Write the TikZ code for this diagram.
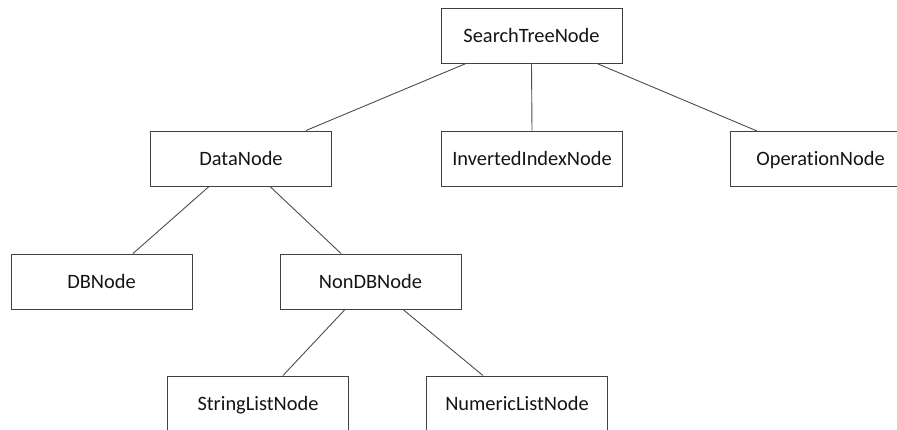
\documentclass[tikz,border=0pt]{standalone}
\usepackage{fontspec}
\setmainfont[Ligatures={NoCommon,NoRare}]{Carlito}
\begin{document}
\begin{tikzpicture}[x=1pt,y=-1pt,
  cls/.style={draw=black!75, line width=1pt, fill=white, rectangle,
    minimum width=181pt, minimum height=55pt, inner sep=0pt,
    text height=13.2pt, text depth=0pt,
    font=\fontsize{20.4}{24}\selectfont, text=black!92},
  link/.style={draw=black!70, line width=0.9pt}]
\useasboundingbox (0,0) rectangle (897,429);
% class boxes
\node[cls] (stn)  at (531.5,35.5)  {SearchTreeNode};
\node[cls] (dn)   at (241,158.5)   {DataNode};
\node[cls] (iin)  at (532,158.5)   {InvertedIndexNode};
\node[cls] (on)   at (820.5,159)   {OperationNode};
\node[cls] (dbn)  at (101.5,281.5) {DBNode};
\node[cls] (ndbn) at (370.5,281.5) {NonDBNode};
\node[cls] (sln)  at (258,403.5)   {StringListNode};
\node[cls] (nln)  at (517,403.5)   {NumericListNode};
% hierarchy links
\draw[link] ([xshift=-65.5pt]stn.south) -- ([xshift=65pt]dn.north);
\draw[link] (stn.south) -- (iin.north);
\draw[link] ([xshift=65.5pt]stn.south) -- ([xshift=-63.5pt]on.north);
\draw[link] ([xshift=-32pt]dn.south) -- ([xshift=31.5pt]dbn.north);
\draw[link] ([xshift=29pt]dn.south) -- ([xshift=-29.5pt]ndbn.north);
\draw[link] ([xshift=-25.5pt]ndbn.south) -- ([xshift=25pt]sln.north);
\draw[link] ([xshift=32.5pt]ndbn.south) -- ([xshift=-34pt]nln.north);
\end{tikzpicture}
\end{document}
